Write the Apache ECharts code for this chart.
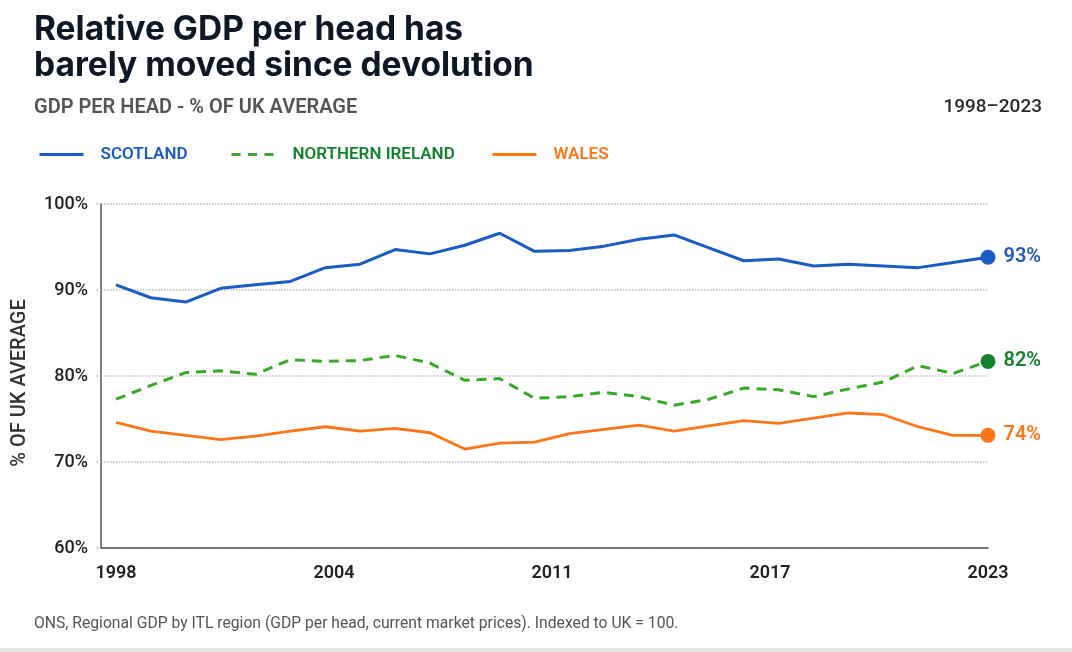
<!DOCTYPE html>
<html>
<head>
<meta charset="utf-8">
<script src="https://cdn.jsdelivr.net/npm/echarts@6/dist/echarts.min.js"></script>
<style>
  html, body { margin: 0; padding: 0; background: #fff; }
  #chart { width: 1072px; height: 652px; }
</style>
</head>
<body>
<div id="chart"></div>
<script>
// years 1998..2023
const years = [1998, 1999, 2000, 2001, 2002, 2003, 2004, 2005, 2006, 2007, 2008, 2009, 2010,
  2011, 2012, 2013, 2014, 2015, 2016, 2017, 2018, 2019, 2020, 2021, 2022, 2023];

// GDP per head, % of UK average
const scotland = [90.6, 89.1, 88.6, 90.2, 90.6, 91.0, 92.6, 93.0, 94.7, 94.2, 95.2, 96.6, 94.5,
  94.6, 95.1, 95.9, 96.4, 94.9, 93.4, 93.6, 92.8, 93.0, 92.8, 92.6, 93.2, 93.8];
const northernIreland = [77.3, 78.9, 80.4, 80.6, 80.2, 81.9, 81.7, 81.8, 82.4, 81.5, 79.5, 79.7, 77.4,
  77.6, 78.1, 77.6, 76.6, 77.3, 78.6, 78.4, 77.6, 78.5, 79.3, 81.2, 80.3, 81.7];
const wales = [74.6, 73.6, 73.1, 72.6, 73.0, 73.6, 74.1, 73.6, 73.9, 73.4, 71.5, 72.2, 72.3,
  73.3, 73.8, 74.3, 73.6, 74.2, 74.8, 74.5, 75.1, 75.7, 75.5, 74.1, 73.1, 73.1];

const endLabels = ['93%', '82%', '74%'];
const xTickValues = [1998, 2004.25, 2010.5, 2016.75, 2023];
const yTicks = [60, 70, 80, 90, 100];

const BLUE = '#1a5bc4';
const GREEN = '#38a82a';
const DARK_GREEN = '#13832e';
const ORANGE = '#ff7518';

const pairs = (vals) => years.map((y, i) => [y, vals[i]]);
const last = (vals) => [[years[years.length - 1], vals[vals.length - 1]]];

const chart = echarts.init(document.getElementById('chart'));

function legendItem(name, left, color, dash) {
  const lg = {
    data: [name],
    left: left,
    top: 141,
    itemWidth: 44,
    itemHeight: 18,
    selectedMode: false,
    itemStyle: { opacity: 0 },
    lineStyle: { width: 3 },
    textStyle: {
      color: color,
      fontFamily: 'Roboto',
      fontWeight: 600,
      fontSize: 17,
      padding: [0, 0, 0, 12]
    }
  };
  if (dash) lg.lineStyle.type = dash;
  return lg;
}

function endDot(vals, color, label) {
  return {
    type: 'scatter',
    data: last(vals),
    symbol: 'circle',
    symbolSize: 15,
    itemStyle: { color: color, opacity: 1 },
    z: 5,
    silent: true,
    label: {
      show: true,
      position: 'right',
      distance: 8,
      formatter: label,
      color: color,
      fontFamily: 'Roboto',
      fontWeight: 600,
      fontSize: 20
    }
  };
}

chart.setOption({
  animation: false,
  backgroundColor: '#fff',
  title: [
    {
      text: 'Relative GDP per head has\nbarely moved since devolution',
      left: 29,
      top: 7,
      textStyle: {
        fontFamily: 'Inter',
        fontWeight: 700,
        fontSize: 33.5,
        lineHeight: 36,
        color: '#0d1826'
      }
    },
    {
      text: 'GDP PER HEAD - % OF UK AVERAGE',
      left: 29,
      top: 93,
      textStyle: { fontFamily: 'Roboto', fontWeight: 600, fontSize: 20, color: '#555' }
    },
    {
      text: '1998–2023',
      right: 25,
      top: 93,
      textStyle: { fontFamily: 'Roboto', fontWeight: 500, fontSize: 19, color: '#2a2a2a' }
    },
    {
      text: 'ONS, Regional GDP by ITL region (GDP per head, current market prices). Indexed to UK = 100.',
      left: 29,
      top: 611,
      textStyle: { fontFamily: 'Roboto', fontWeight: 400, fontSize: 15.7, color: '#555' }
    }
  ],
  legend: [
    legendItem('SCOTLAND', 33, BLUE),
    legendItem('NORTHERN IRELAND', 225, DARK_GREEN, [9, 7.5]),
    legendItem('WALES', 486, ORANGE)
  ],
  grid: { left: 101, right: 84, top: 204, bottom: 104 },
  xAxis: {
    type: 'value',
    min: 1997.57,
    max: 2023,
    splitLine: { show: false },
    axisTick: { show: false },
    axisLine: { lineStyle: { color: '#555', width: 1.5 } },
    axisLabel: {
      customValues: xTickValues,
      formatter: (v) => String(Math.round(v)),
      margin: 16,
      fontFamily: 'Roboto',
      fontWeight: 600,
      fontSize: 18,
      color: '#222'
    }
  },
  yAxis: {
    type: 'value',
    min: yTicks[0],
    max: yTicks[yTicks.length - 1],
    interval: 10,
    name: '% OF UK AVERAGE',
    nameLocation: 'middle',
    nameRotate: 90,
    nameGap: 71,
    nameTextStyle: {
      fontFamily: 'Roboto', fontWeight: 500, fontSize: 20, color: '#333',
      padding: [0, 14, 0, 0]
    },
    axisLine: { show: true, lineStyle: { color: '#555', width: 1.5 } },
    axisTick: { show: true, length: 6, lineStyle: { color: '#bbb', type: 'dotted', width: 1.5 } },
    splitLine: { lineStyle: { color: '#bbb', type: 'dotted', width: 1.5 } },
    axisLabel: {
      formatter: '{value}%',
      margin: 13,
      fontFamily: 'Roboto',
      fontWeight: 500,
      fontSize: 18,
      color: '#222'
    }
  },
  series: [
    {
      name: 'SCOTLAND',
      type: 'line',
      data: pairs(scotland),
      symbol: 'none',
      lineStyle: { color: BLUE, width: 3 },
      itemStyle: { color: BLUE }
    },
    {
      name: 'NORTHERN IRELAND',
      type: 'line',
      data: pairs(northernIreland),
      symbol: 'none',
      lineStyle: { color: GREEN, width: 3, type: [10, 7] },
      itemStyle: { color: GREEN }
    },
    {
      name: 'WALES',
      type: 'line',
      data: pairs(wales),
      symbol: 'none',
      lineStyle: { color: ORANGE, width: 2.8 },
      itemStyle: { color: ORANGE }
    },
    endDot(scotland, BLUE, endLabels[0]),
    endDot(northernIreland, DARK_GREEN, endLabels[1]),
    endDot(wales, ORANGE, endLabels[2])
  ],
  graphic: [
    {
      type: 'rect',
      shape: { x: 0, y: 648, width: 1072, height: 4 },
      style: { fill: '#e6e6e6' }
    }
  ]
});
</script>
</body>
</html>
